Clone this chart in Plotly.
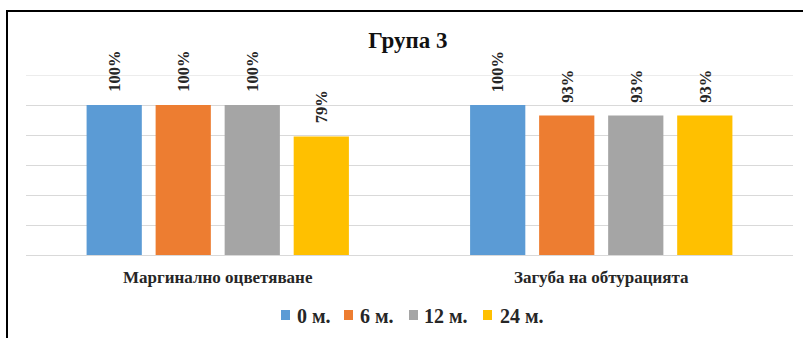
import plotly.graph_objects as go

# Data
categories = ["Маргинално оцветяване", "Загуба на обтурацията"]
series_names = ["0 м.", "6 м.", "12 м.", "24 м."]
values_0m = [1.00, 1.00]
values_6m = [1.00, 0.93]
values_12m = [1.00, 0.93]
values_24m = [0.79, 0.93]
series_values = [values_0m, values_6m, values_12m, values_24m]
colors = ["#5B9BD5", "#ED7D31", "#A5A5A5", "#FFC000"]
y_max = 1.2

FONT = "Liberation Serif"
TEXT = "#262626"
BARGAP = 0.28

# plot-area geometry in pixels (used for paper-coordinate placement)
L, R, T, B = 26, 10, 75, 83
W, H = 803, 338
PW, PH = W - L - R, H - T - B


def px_x(px):
    return (px - L) / PW


def px_y(py):
    return (H - B - py) / PH


x_pos = list(range(len(categories)))
fig = go.Figure()
for name, vals, col in zip(series_names, series_values, colors):
    fig.add_trace(go.Bar(
        x=x_pos, y=vals, name=name,
        marker=dict(color=col, line=dict(width=0)),
        showlegend=False,
    ))

# top gridline at the axis maximum
fig.add_shape(
    type="line", xref="paper", yref="y", x0=0, x1=1, y0=y_max, y1=y_max,
    line=dict(color="#D9D9D9", width=1), layer="below",
)

# rotated value labels above each bar
n = len(series_names)
slot = (1 - BARGAP) / n
for i, vals in enumerate(series_values):
    off = (i - (n - 1) / 2) * slot
    for j, v in enumerate(vals):
        fig.add_annotation(
            x=x_pos[j] + off, y=v, xref="x", yref="y",
            text=f"{round(v * 100)}%", showarrow=False,
            textangle=-90, yanchor="bottom", xanchor="center", yshift=11,
            font=dict(family=FONT, size=16.5, color=TEXT, weight="bold"),
        )

# legend row: colour square + label for each series
legend_square_x = [281, 344, 409, 483]
legend_text_x = [295, 358, 422, 498]
for name, col, sx, tx in zip(series_names, colors, legend_square_x, legend_text_x):
    fig.add_shape(
        type="rect", xref="paper", yref="paper",
        x0=px_x(sx), x1=px_x(sx + 9), y0=px_y(320), y1=px_y(310),
        line=dict(width=0), fillcolor=col,
    )
    fig.add_annotation(
        x=px_x(tx), y=px_y(315.5), xref="paper", yref="paper",
        text=name, showarrow=False, xanchor="left", yanchor="middle",
        font=dict(family=FONT, size=20, color=TEXT, weight="bold"),
    )

# outer frame
fig.add_shape(
    type="rect", xref="paper", yref="paper",
    x0=px_x(7), x1=px_x(830), y0=px_y(360), y1=px_y(11),
    line=dict(color="#000000", width=2), fillcolor="rgba(0,0,0,0)", layer="above",
)

fig.update_layout(
    width=W, height=H,
    margin=dict(l=L, r=R, t=T, b=B, autoexpand=False),
    paper_bgcolor="white", plot_bgcolor="white",
    barmode="group", bargap=BARGAP, bargroupgap=0.2,
    showlegend=False,
    title=dict(
        text="Група 3", x=0.508, xanchor="center", y=0.882, yanchor="middle",
        font=dict(family=FONT, size=23, color="#111111", weight="bold"),
    ),
    xaxis=dict(
        tickmode="array", tickvals=x_pos, ticktext=categories,
        range=[-0.5, len(categories) - 0.5],
        showgrid=False, zeroline=False, showline=False, ticks="",
        ticklabelstandoff=10,
        tickfont=dict(family=FONT, size=17, color=TEXT, weight="bold"),
    ),
    yaxis=dict(
        range=[0, y_max], tickvals=[0, 0.2, 0.4, 0.6, 0.8, 1.0],
        showticklabels=False,
        showgrid=True, gridcolor="#D9D9D9", gridwidth=1,
        zeroline=True, zerolinecolor="#D9D9D9", zerolinewidth=1,
        showline=False, ticks="",
    ),
)

fig.write_html("out.html")
